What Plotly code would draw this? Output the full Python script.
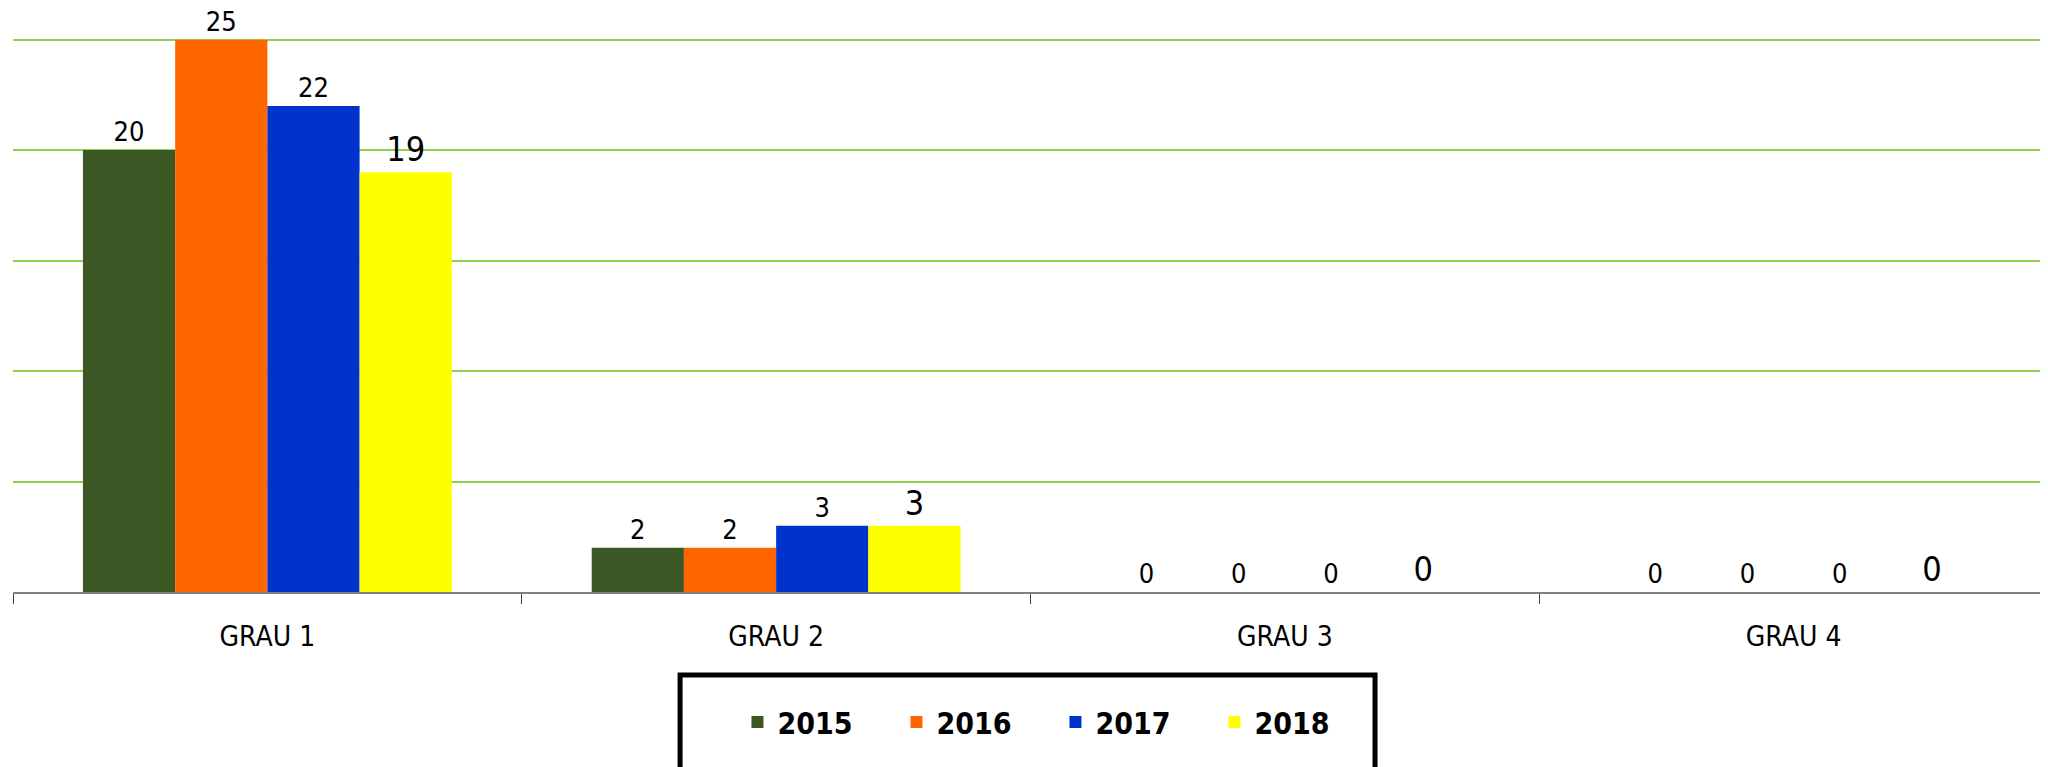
import plotly.graph_objects as go

# categories and series values
graus = ["GRAU 1", "GRAU 2", "GRAU 3", "GRAU 4"]
anos = ["2015", "2016", "2017", "2018"]
v2015 = [20, 2, 0, 0]
v2016 = [25, 2, 0, 0]
v2017 = [22, 3, 0, 0]
v2018 = [19, 3, 0, 0]

cores = ["#3A5724", "#FF6600", "#0033CC", "#FFFF00"]
FONTE = "DejaVu Sans Condensed, Liberation Sans Narrow, sans-serif"

fig = go.Figure()
for ano, vals, cor in zip(anos, [v2015, v2016, v2017, v2018], cores):
    # the last series has bigger data labels in the original
    tam = 34 if ano == "2018" else 27
    fig.add_trace(go.Bar(
        x=graus, y=vals, name=ano,
        marker=dict(color=cor, line=dict(width=0)),
        text=[str(v) for v in vals], textposition="outside",
        textfont=dict(family=FONTE, size=tam, color="black"),
        cliponaxis=False,
    ))

# thick black frame round the legend (runs off the bottom of the page)
fig.add_shape(type="rect", xref="paper", yref="paper",
              x0=0.3278, x1=0.6693, y0=-0.40, y1=-0.1485,
              line=dict(color="black", width=5), fillcolor="rgba(0,0,0,0)")

# page has an 8px body margin, so margins are trimmed by that
# y range goes a bit past 25 so the top gridline is still drawn
fig.update_layout(
    width=2048, height=767, autosize=False,
    margin=dict(l=5, r=8, t=25, b=183),
    paper_bgcolor="white", plot_bgcolor="white",
    barmode="group", bargap=0.275, bargroupgap=0,
    font=dict(family=FONTE, color="black"),
    showlegend=True,
    legend=dict(orientation="h", x=0.356, xanchor="left", y=-0.2326, yanchor="middle",
                font=dict(family=FONTE, size=30, color="black", weight="bold"),
                bgcolor="rgba(0,0,0,0)", borderwidth=0, entrywidth=114,
                traceorder="normal"),
    xaxis=dict(showline=True, linecolor="#7F7F7F", linewidth=2,
               ticks="outside", tickson="boundaries", ticklen=10,
               tickcolor="#404040", tickwidth=1, ticklabelstandoff=18,
               tickfont=dict(family=FONTE, size=28, color="black")),
    yaxis=dict(range=[0, 25.3], tick0=0, dtick=5, showgrid=True, gridcolor="#92D050", gridwidth=2,
               showticklabels=False, zeroline=False, showline=False),
)

fig.write_html("out.html")
